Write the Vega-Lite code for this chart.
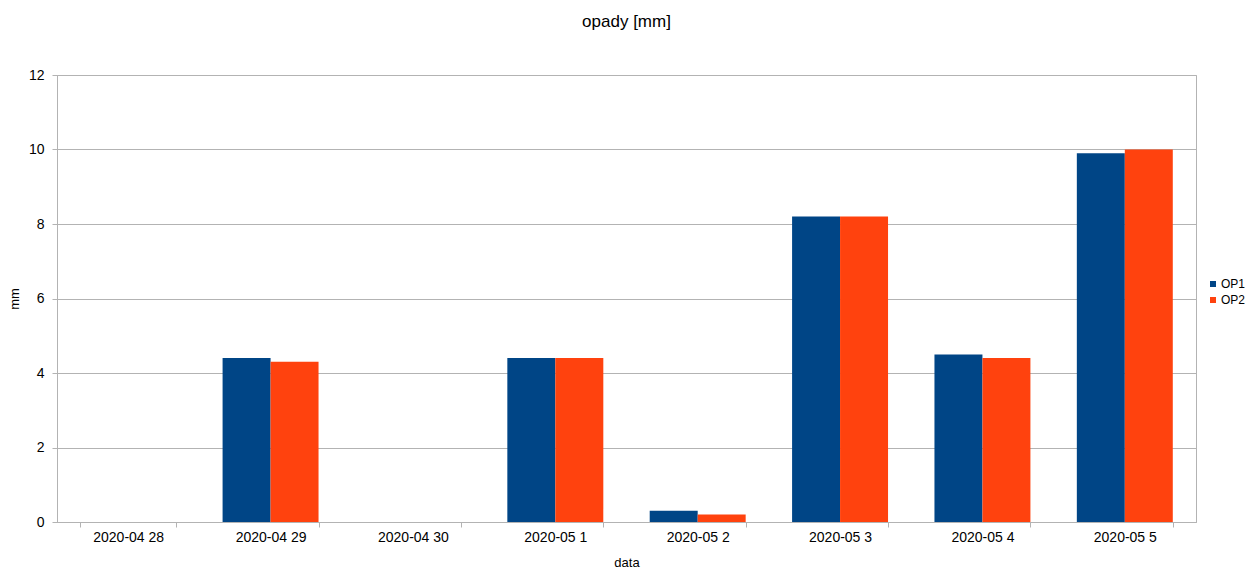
{
  "$schema": "https://vega.github.io/schema/vega-lite/v6.json",
  "width": 1139,
  "height": 447,
  "autosize": {"type": "none"},
  "padding": {"left": 57, "top": 75, "right": 54, "bottom": 46},
  "background": "white",
  "title": {
    "text": "opady [mm]",
    "font": "Liberation Sans",
    "fontSize": 17,
    "fontWeight": "normal",
    "color": "#000000",
    "anchor": "middle",
    "offset": 37
  },
  "config": {
    "font": "Liberation Sans",
    "view": {"stroke": "#b3b3b3", "strokeWidth": 1},
    "axis": {
      "domainColor": "#b3b3b3",
      "tickColor": "#b3b3b3",
      "gridColor": "#b3b3b3",
      "labelColor": "#000000",
      "titleColor": "#000000",
      "labelFont": "Liberation Sans",
      "titleFont": "Liberation Sans",
      "labelFontSize": 14,
      "titleFontSize": 13,
      "titleFontWeight": "normal",
      "tickSize": 5
    }
  },
  "data": {
    "values": [
      {"data": "2020-04 28", "seria": "OP1", "mm": 0},
      {"data": "2020-04 28", "seria": "OP2", "mm": 0},
      {"data": "2020-04 29", "seria": "OP1", "mm": 4.4},
      {"data": "2020-04 29", "seria": "OP2", "mm": 4.3},
      {"data": "2020-04 30", "seria": "OP1", "mm": 0},
      {"data": "2020-04 30", "seria": "OP2", "mm": 0},
      {"data": "2020-05 1", "seria": "OP1", "mm": 4.4},
      {"data": "2020-05 1", "seria": "OP2", "mm": 4.4},
      {"data": "2020-05 2", "seria": "OP1", "mm": 0.3},
      {"data": "2020-05 2", "seria": "OP2", "mm": 0.2},
      {"data": "2020-05 3", "seria": "OP1", "mm": 8.2},
      {"data": "2020-05 3", "seria": "OP2", "mm": 8.2},
      {"data": "2020-05 4", "seria": "OP1", "mm": 4.5},
      {"data": "2020-05 4", "seria": "OP2", "mm": 4.4},
      {"data": "2020-05 5", "seria": "OP1", "mm": 9.9},
      {"data": "2020-05 5", "seria": "OP2", "mm": 10}
    ]
  },
  "mark": {"type": "bar"},
  "encoding": {
    "x": {
      "field": "data",
      "type": "nominal",
      "sort": null,
      "scale": {"paddingInner": 0.326, "paddingOuter": 0.163},
      "axis": {
        "title": "data",
        "labelAngle": 0,
        "tickBand": "extent",
        "labelPadding": 3,
        "titlePadding": 12
      }
    },
    "xOffset": {
      "field": "seria",
      "type": "nominal",
      "scale": {"paddingInner": 0, "paddingOuter": 0}
    },
    "y": {
      "field": "mm",
      "type": "quantitative",
      "scale": {"domain": [0, 12], "nice": false},
      "axis": {
        "title": "mm",
        "values": [0, 2, 4, 6, 8, 10, 12],
        "grid": true,
        "labelPadding": 8,
        "titlePadding": 7
      }
    },
    "color": {
      "field": "seria",
      "type": "nominal",
      "scale": {"domain": ["OP1", "OP2"], "range": ["#004586", "#ff420e"]},
      "legend": {
        "title": null,
        "orient": "none",
        "legendX": 1150,
        "legendY": 203,
        "padding": 0,
        "symbolType": "square",
        "symbolSize": 36,
        "symbolStrokeWidth": 0,
        "labelFontSize": 12,
        "labelFont": "Liberation Sans",
        "labelColor": "#000000",
        "labelOffset": 2,
        "labelLimit": 60,
        "rowPadding": 4
      }
    }
  }
}
